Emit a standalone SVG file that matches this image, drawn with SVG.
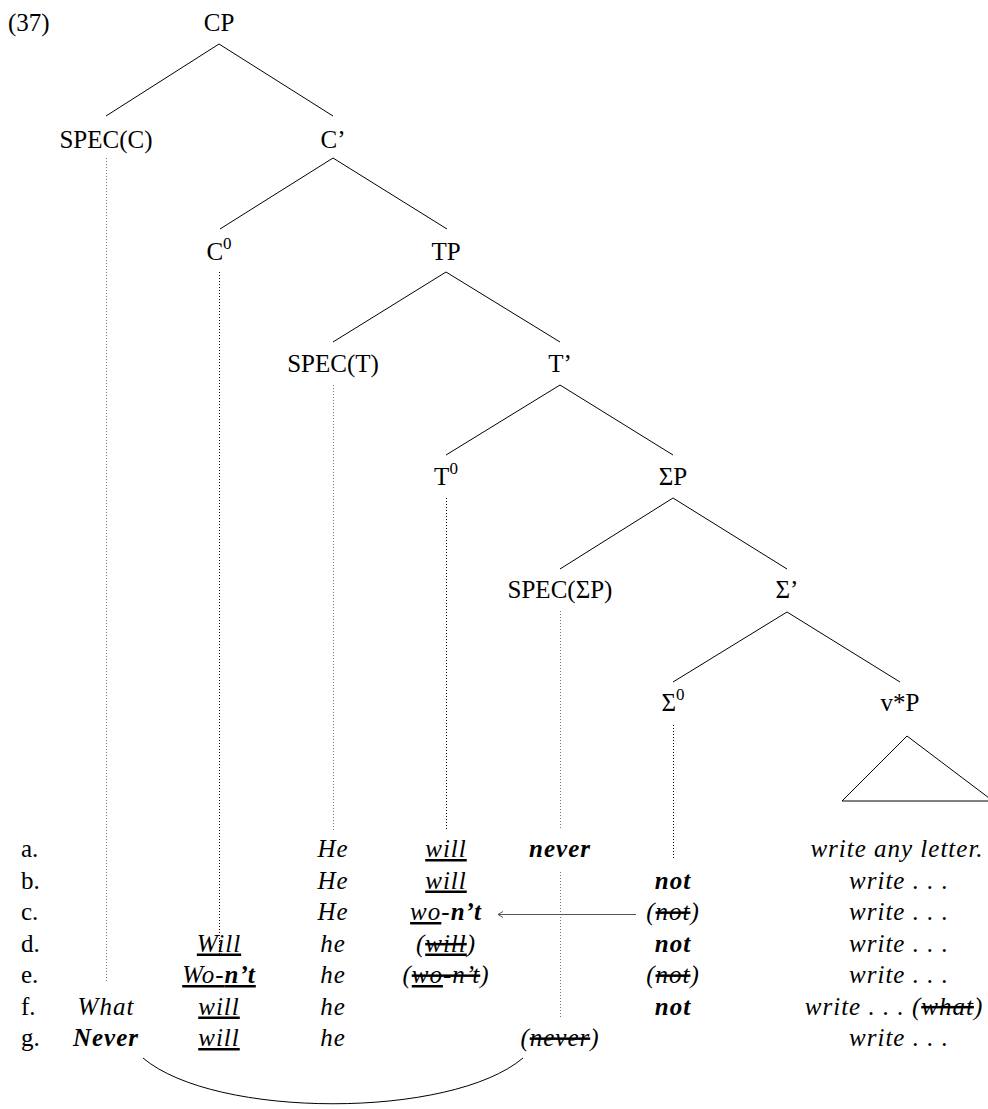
<svg xmlns="http://www.w3.org/2000/svg" width="988" height="1109" viewBox="0 0 988 1109">
<style>
text{font-family:"Liberation Serif","Times New Roman",serif;font-size:25px;fill:#000;text-anchor:middle}
.l{text-anchor:start}
.i{font-style:italic;letter-spacing:1px}
.b{font-weight:bold}
.sup{font-size:17px}
.u{text-decoration:underline}
.s{text-decoration:line-through}
.us{text-decoration:underline line-through}
.edge{stroke:#000;stroke-width:1;fill:none}
.dot{stroke:#000;stroke-width:1;stroke-dasharray:1 2;fill:none}
.dotg{stroke:#777;stroke-width:1;stroke-dasharray:1 2;fill:none}
.arr{stroke:#555;stroke-width:1;fill:none}
</style>
<defs>
<marker id="head" markerWidth="8" markerHeight="8" refX="5" refY="4" orient="auto" markerUnits="userSpaceOnUse">
<path d="M0,1 L5,4 L0,7" fill="none" stroke="#555" stroke-width="1"/>
</marker>
</defs>

<text id="exnum" class="l" x="8" y="31">(37)</text>

<g id="connectors">
<path class="edge" d="M106,116 L219,44 L333,116"/>
<path class="edge" d="M220,229 L333,158 L447,229"/>
<path class="edge" d="M333,342 L446,272 L560,342"/>
<path class="edge" d="M446,455 L560,385 L673,455"/>
<path class="edge" d="M560,569 L673,498 L787,569"/>
<path class="edge" d="M673,682 L787,612 L900,682"/>
<path class="dotg" d="M106.5,158 V982"/>
<path class="dot" d="M219.5,272 V955"/>
<path class="dotg" d="M333.5,385 V832"/>
<path class="dot" d="M446.5,498 V831"/>
<path class="dotg" d="M560.5,611 V830 M560.5,872 V1017"/>
<path class="dot" d="M673.5,725 V860"/>
<path class="arr" d="M636,914.5 H498" marker-end="url(#head)"/>
<path class="edge" d="M143,1058 C215,1119 451,1119 523,1058"/>
</g>

<g id="node-CP"><text x="219" y="31">CP</text></g>
<g id="node-SPEC-C"><text x="106" y="148">SPEC(C)</text></g>
<g id="node-Cbar"><text x="333" y="148">C’</text></g>
<g id="node-C0"><text x="219" y="260">C<tspan class="sup" dy="-11">0</tspan></text></g>
<g id="node-TP"><text x="446" y="260">TP</text></g>
<g id="node-SPEC-T"><text x="333" y="372">SPEC(T)</text></g>
<g id="node-Tbar"><text x="560" y="372">T’</text></g>
<g id="node-T0"><text x="446" y="485">T<tspan class="sup" dy="-11">0</tspan></text></g>
<g id="node-SigmaP"><text x="673" y="485">ΣP</text></g>
<g id="node-SPEC-SigmaP"><text x="560" y="598">SPEC(ΣP)</text></g>
<g id="node-Sigmabar"><text x="787" y="598">Σ’</text></g>
<g id="node-Sigma0"><text x="673" y="711">Σ<tspan class="sup" dy="-11">0</tspan></text></g>
<g id="node-vP"><text x="900" y="711">v*P</text>
<path class="edge" d="M842,801 L907,736 L993,801 Z"/></g>

<g id="row-a">
<text class="l" x="21" y="857">a.</text>
<text class="i" x="333" y="857">He</text>
<text class="i" x="446" y="857"><tspan class="u">will</tspan></text>
<text class="i b" x="560" y="857">never</text>
<text class="i" x="897" y="857">write any letter.</text>
</g>
<g id="row-b">
<text class="l" x="21" y="888.5">b.</text>
<text class="i" x="333" y="888.5">He</text>
<text class="i" x="446" y="888.5"><tspan class="u">will</tspan></text>
<text class="i b" x="673" y="888.5">not</text>
<text class="i" x="899" y="888.5">write . . .</text>
</g>
<g id="row-c">
<text class="l" x="21" y="920">c.</text>
<text class="i" x="333" y="920">He</text>
<text class="i" x="446" y="920"><tspan class="u">wo</tspan>-<tspan class="b">n’t</tspan></text>
<text class="i" x="673" y="920">(<tspan class="s">not</tspan>)</text>
<text class="i" x="899" y="920">write . . .</text>
</g>
<g id="row-d">
<text class="l" x="21" y="951.5">d.</text>
<text class="i" x="219" y="951.5"><tspan class="u">Will</tspan></text>
<text class="i" x="333" y="951.5">he</text>
<text class="i" x="446" y="951.5">(<tspan class="us">will</tspan>)</text>
<text class="i b" x="673" y="951.5">not</text>
<text class="i" x="899" y="951.5">write . . .</text>
</g>
<g id="row-e">
<text class="l" x="21" y="983">e.</text>
<text class="i" x="219" y="983"><tspan class="u">Wo-</tspan><tspan class="u b">n’t</tspan></text>
<text class="i" x="333" y="983">he</text>
<text class="i" x="446" y="983">(<tspan class="us">wo</tspan><tspan class="s">-n’t</tspan>)</text>
<text class="i" x="673" y="983">(<tspan class="s">not</tspan>)</text>
<text class="i" x="899" y="983">write . . .</text>
</g>
<g id="row-f">
<text class="l" x="21" y="1014.5">f.</text>
<text class="i" x="106" y="1014.5">What</text>
<text class="i" x="219" y="1014.5"><tspan class="u">will</tspan></text>
<text class="i" x="333" y="1014.5">he</text>
<text class="i b" x="673" y="1014.5">not</text>
<text class="i" x="894" y="1014.5">write . . . (<tspan class="s">what</tspan>)</text>
</g>
<g id="row-g">
<text class="l" x="21" y="1046">g.</text>
<text class="i b" x="106" y="1046">Never</text>
<text class="i" x="219" y="1046"><tspan class="u">will</tspan></text>
<text class="i" x="333" y="1046">he</text>
<text class="i" x="560" y="1046">(<tspan class="s">never</tspan>)</text>
<text class="i" x="899" y="1046">write . . .</text>
</g>
</svg>
